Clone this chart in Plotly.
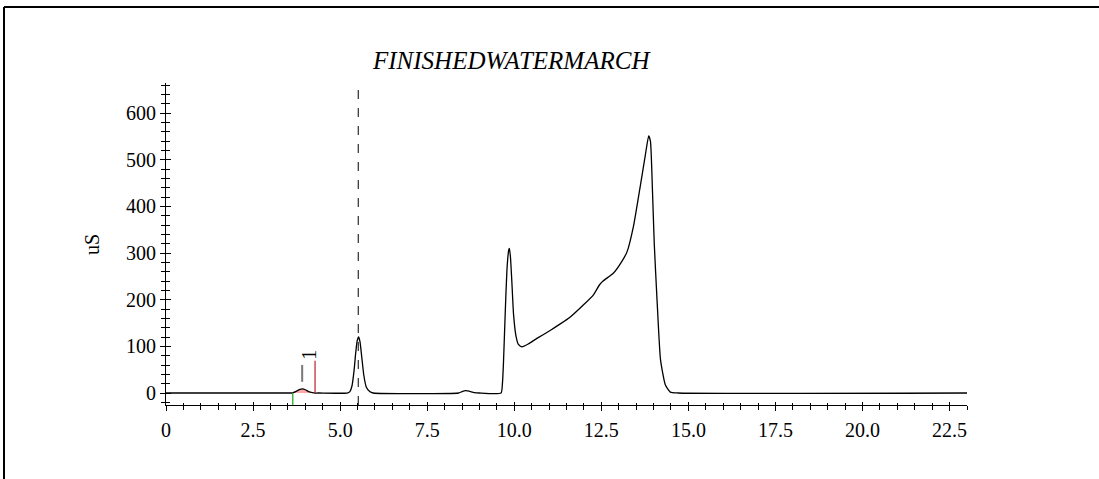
import plotly.graph_objects as go

# ---- data ----
time_min = [0, 3.55, 3.64, 3.75, 3.85, 3.92, 4.0, 4.1, 4.2, 4.28, 4.4,
            5.2, 5.28, 5.34, 5.40, 5.45, 5.49, 5.53, 5.57, 5.62, 5.68, 5.75, 5.85, 5.95,
            8.4, 8.5, 8.6, 8.7, 8.85, 9.0,
            9.62, 9.66, 9.69, 9.74, 9.79, 9.84, 9.86, 9.89, 9.93, 9.98, 10.05, 10.12, 10.22,
            10.4, 10.65, 11.03, 11.3, 11.61, 11.99, 12.28, 12.45, 12.55, 12.85, 13.09, 13.24,
            13.43, 13.62, 13.76, 13.86, 13.91, 13.97, 14.02, 14.10, 14.20, 14.34, 14.48, 14.7, 23.0]
signal_us = [0, 0, 0.5, 4, 8, 9, 7, 3, 1, 0, 0,
             0, 3, 15, 48, 88, 112, 120, 110, 78, 38, 13, 3, 0,
             0, 3, 5, 4, 1, 0,
             0, 20, 64, 171, 264, 306, 310, 292, 240, 168, 122, 104, 99,
             105, 117, 134, 147, 163, 189, 211, 232, 240, 257, 282, 303,
             360, 444, 508, 551, 540, 430, 320, 199, 71, 17, 2, 0, 0]

peak_label = "1"
peak_start = 3.64
peak_end = 4.28
peak_apex = 3.91
peak_end_marker_height = 69
marker_time = 5.52

x_ticks = [0, 2.5, 5.0, 7.5, 10.0, 12.5, 15.0, 17.5, 20.0, 22.5]
x_tick_text = ["0", "2.5", "5.0", "7.5", "10.0", "12.5", "15.0", "17.5", "20.0", "22.5"]
y_ticks = [0, 100, 200, 300, 400, 500, 600]

x_range = [0, 23.0]
y_range = [-25.7, 664.3]

FONT = "Liberation Serif"

fig = go.Figure()

# integrated area of peak 1
fx = [t for t in time_min if peak_start <= t <= peak_end]
fy = [s for t, s in zip(time_min, signal_us) if peak_start <= t <= peak_end]
fig.add_trace(go.Scatter(x=fx, y=fy, mode="lines", fill="tozeroy",
                         fillcolor="rgba(255,140,140,0.75)", line=dict(width=0),
                         hoverinfo="skip", showlegend=False))

fig.add_trace(go.Scatter(x=time_min, y=signal_us, mode="lines",
                         line=dict(color="black", width=1.3, shape="spline", smoothing=0.5),
                         showlegend=False))

# invisible trace for overlay axes (inside ticks)
fig.add_trace(go.Scatter(x=[x_range[0]], y=[0], xaxis="x2", yaxis="y2",
                         mode="markers", marker=dict(opacity=0), showlegend=False,
                         hoverinfo="skip"))

tickfont = dict(family=FONT, size=20, color="black")

fig.update_layout(
    width=1099, height=479,
    margin=dict(l=166, r=132, t=83, b=74),
    paper_bgcolor="white", plot_bgcolor="white",
    showlegend=False,
    xaxis=dict(range=x_range, tickvals=x_ticks, ticktext=x_tick_text,
               ticks="outside", ticklen=5, tickcolor="black", tickwidth=1,
               minor=dict(dtick=0.5, tick0=0, ticks="outside", ticklen=4, tickcolor="black"),
               showline=True, linecolor="black", linewidth=1,
               showgrid=False, zeroline=False, tickfont=tickfont, ticklabelstandoff=2),
    yaxis=dict(range=y_range, tickvals=y_ticks,
               ticks="outside", ticklen=5, tickcolor="black", tickwidth=1,
               minor=dict(dtick=20, tick0=0, ticks="outside", ticklen=4, tickcolor="black"),
               showline=True, linecolor="black", linewidth=1,
               showgrid=False, zeroline=False, tickfont=tickfont),
    xaxis2=dict(range=x_range, overlaying="x", anchor="y", side="bottom",
                tickvals=x_ticks, ticks="inside", ticklen=3, tickcolor="black",
                minor=dict(dtick=0.5, tick0=0, ticks="inside", ticklen=2, tickcolor="black"),
                showticklabels=False, showline=False, showgrid=False, zeroline=False),
    yaxis2=dict(range=y_range, overlaying="y", anchor="x", side="left",
                tickvals=y_ticks, ticks="inside", ticklen=5, tickcolor="black",
                minor=dict(dtick=20, tick0=0, ticks="inside", ticklen=4, tickcolor="black"),
                showticklabels=False, showline=False, showgrid=False, zeroline=False),
)

shapes = [
    # retention time marker (dashed)
    dict(type="line", xref="x", yref="paper", x0=marker_time, x1=marker_time, y0=0, y1=1,
         line=dict(color="black", width=1, dash="dash")),
    # peak start (green) and end (red)
    dict(type="line", xref="x", yref="y", x0=peak_start, x1=peak_start, y0=y_range[0], y1=0,
         line=dict(color="rgb(40,170,40)", width=1.3)),
    dict(type="line", xref="x", yref="y", x0=peak_end, x1=peak_end, y0=0, y1=peak_end_marker_height,
         line=dict(color="rgb(190,50,60)", width=1.3)),
    # apex tick
    dict(type="line", xref="x", yref="y", x0=peak_apex, x1=peak_apex, y0=24, y1=60,
         line=dict(color="rgb(120,120,120)", width=2)),
    # page frame
    dict(type="line", xref="paper", yref="paper", x0=(4 - 166) / 801, x1=(1099 - 166) / 801,
         y0=(405 - 7) / 322, y1=(405 - 7) / 322, line=dict(color="black", width=2)),
    dict(type="line", xref="paper", yref="paper", x0=(4 - 166) / 801, x1=(4 - 166) / 801,
         y0=(405 - 7) / 322, y1=(405 - 479) / 322, line=dict(color="black", width=2)),
]
fig.update_layout(shapes=shapes)

fig.add_annotation(text="FINISHEDWATERMARCH", xref="paper", yref="paper",
                   x=(511 - 166) / 801, y=(405 - 61) / 322, xanchor="center", yanchor="middle",
                   showarrow=False, font=dict(family=FONT, size=25, color="black", style="italic"))
fig.add_annotation(text="uS", xref="paper", yref="paper",
                   x=(92 - 166) / 801, y=(405 - 245) / 322, xanchor="center", yanchor="middle",
                   textangle=-90, showarrow=False, font=dict(family=FONT, size=20, color="black"))
fig.add_annotation(text=peak_label, xref="x", yref="y", x=4.12, y=83,
                   textangle=-90, showarrow=False, font=dict(family=FONT, size=20, color="black"))

fig.write_html("out.html")
